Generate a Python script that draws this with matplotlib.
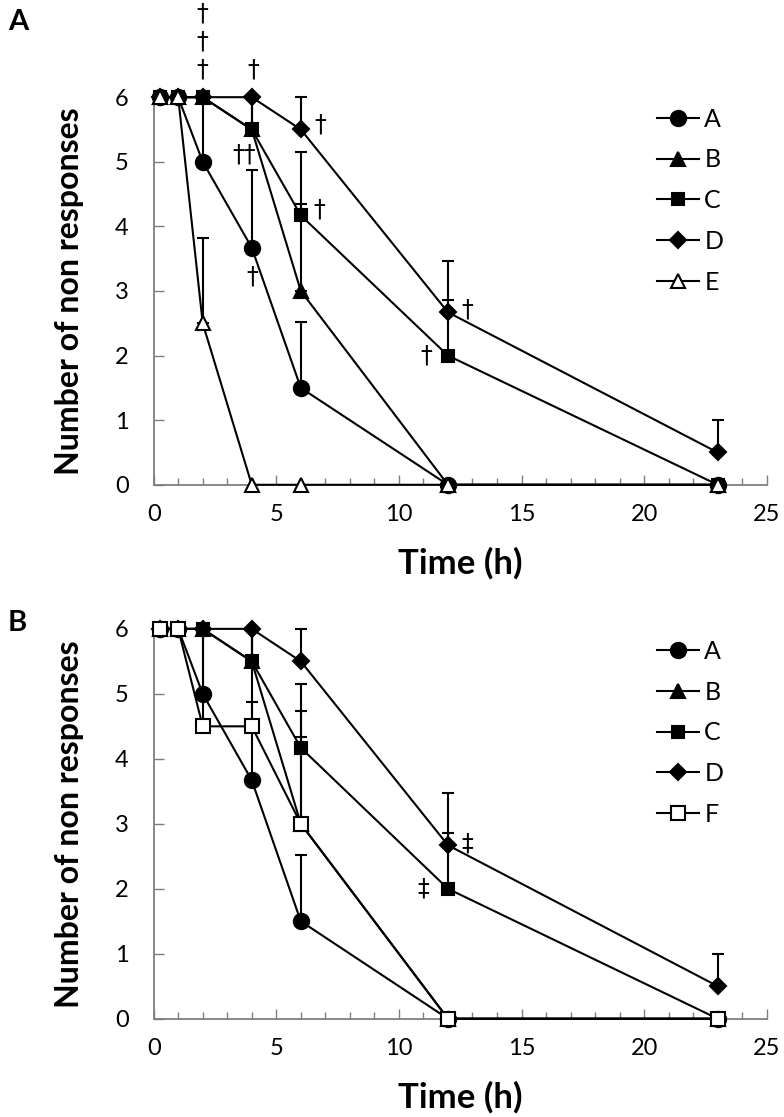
import numpy as np
import matplotlib
matplotlib.use("Agg")
import matplotlib.pyplot as plt
from matplotlib.ticker import MultipleLocator

plt.rcParams['font.family'] = ['Lato', 'DejaVu Sans']

# data
times = [0.25, 1, 2, 4, 6, 12, 23]

a_vals = [6, 6, 5, 3.67, 1.5, 0, 0]
a_err = [0, 0, 1.0, 1.21, 1.02, 0, 0]
b_vals = [6, 6, 6, 5.5, 3, 0, 0]
b_err = [0, 0, 0, 0.5, 1.34, 0, 0]
c_vals = [6, 6, 6, 5.5, 4.17, 2, 0]
c_err = [0, 0, 0, 0.5, 0.98, 0.86, 0]
d_vals = [6, 6, 6, 6, 5.5, 2.67, 0.5]
d_err = [0, 0, 0, 0, 0.5, 0.8, 0.5]
e_vals = [6, 6, 2.5, 0, 0, 0, 0]
e_err = [0, 0, 1.32, 0, 0, 0, 0]
f_vals = [6, 6, 4.5, 4.5, 3, 0, 0]
f_err = [0, 0, 1.5, 1.5, 1.74, 0, 0]

# significance marks (x, y, symbol)
marks_a = [(2, 6.43, "†"), (2, 6.86, "†"), (2, 7.29, "†"), (4.08, 6.43, "†"),
           (3.7, 5.12, "††"), (4.0, 3.23, "†"), (6.78, 5.57, "†"),
           (6.75, 4.26, "†"), (12.8, 2.72, "†"), (11.1, 2.0, "†")]
marks_b = [(12.8, 2.7, "‡"), (11.0, 2.0, "‡")]

styles = {
    "A": dict(marker="o", ms=11, mfc="black"),
    "B": dict(marker="^", ms=10, mfc="black"),
    "C": dict(marker="s", ms=9, mfc="black"),
    "D": dict(marker="D", ms=8, mfc="black"),
    "E": dict(marker="^", ms=10, mfc="white"),
    "F": dict(marker="s", ms=10, mfc="white"),
}


def draw_panel(ax, series, marks):
    t = np.array(times)
    for name, vals, err in series:
        vals = np.array(vals)
        err = np.array(err)
        m = err > 0
        ax.errorbar(t[m], vals[m], yerr=[np.zeros(m.sum()), err[m]],
                    fmt="none", ecolor="black", elinewidth=1.5, capsize=4.5,
                    capthick=1.5, zorder=2, clip_on=False)
    for name, vals, err in series:
        ax.plot(times, vals, color="black", lw=1.5, mec="black", mew=1.5,
                label=name, zorder=3, clip_on=False, **styles[name])
    for x, y, s in marks:
        ax.text(x, y, s, ha="center", va="center", fontsize=17,
                family=['DejaVu Sans'], clip_on=False)

    ax.set_xlim(0, 25)
    ax.set_ylim(0, 6)
    ax.xaxis.set_major_locator(MultipleLocator(5))
    ax.xaxis.set_minor_locator(MultipleLocator(1))
    ax.yaxis.set_major_locator(MultipleLocator(1))
    for side in ["top", "right"]:
        ax.spines[side].set_visible(False)
    for side in ["left", "bottom"]:
        ax.spines[side].set_color("#7f7f7f")
        ax.spines[side].set_linewidth(1.3)
    ax.tick_params(which="both", direction="in", color="#7f7f7f", labelsize=17)
    ax.tick_params(which="major", length=7, width=1.0)
    ax.tick_params(which="minor", length=5, width=1.0)
    ax.tick_params(axis="x", which="major", pad=14)
    ax.tick_params(axis="y", which="major", pad=18)
    ax.set_xlabel("Time (h)", fontsize=25, fontweight="bold", labelpad=16)
    ax.set_ylabel("Number of non responses", fontsize=23, fontweight="bold",
                  labelpad=22)
    ax.legend(loc="center", bbox_to_anchor=(0.875, 0.733), frameon=False,
              fontsize=18, handlelength=1.7, labelspacing=0.71,
              handletextpad=0.2, borderpad=0)


fig = plt.figure(figsize=(7.84, 11.17), dpi=100)
ax1 = fig.add_axes([0.196, 0.566, 0.782, 0.347])
ax2 = fig.add_axes([0.196, 0.088, 0.782, 0.349])

draw_panel(ax1, [("A", a_vals, a_err), ("B", b_vals, b_err), ("C", c_vals, c_err),
                 ("D", d_vals, d_err), ("E", e_vals, e_err)], marks_a)
draw_panel(ax2, [("A", a_vals, a_err), ("B", b_vals, b_err), ("C", c_vals, c_err),
                 ("D", d_vals, d_err), ("F", f_vals, f_err)], marks_b)

fig.text(0.01, 1 - 22 / 1117, "A", fontsize=21, fontweight="bold", va="center")
fig.text(0.01, 1 - 623 / 1117, "B", fontsize=21, fontweight="bold", va="center")

fig.savefig("out.png", dpi=100)
